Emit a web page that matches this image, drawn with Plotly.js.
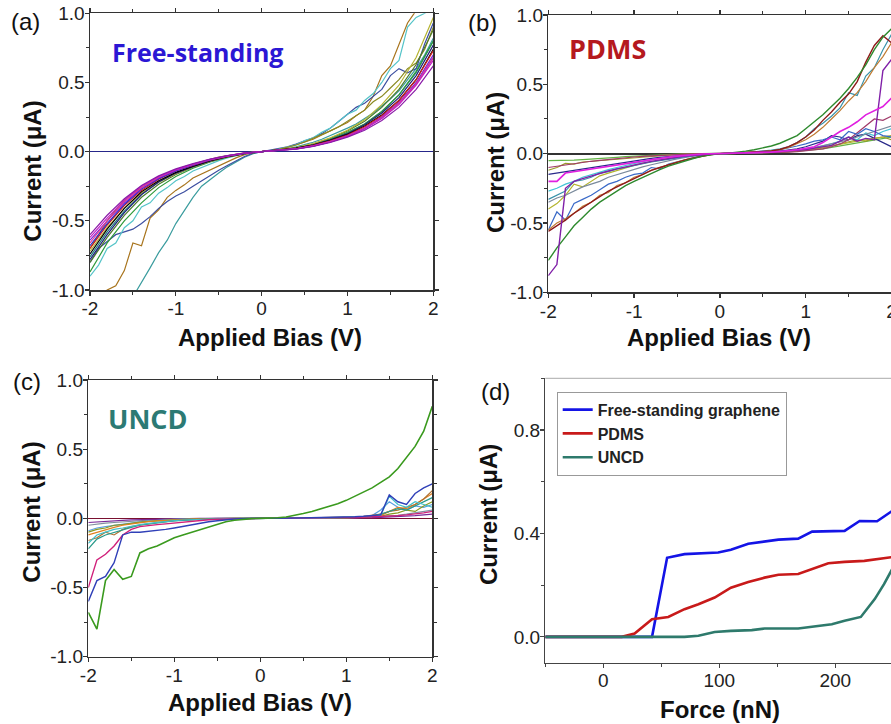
<!DOCTYPE html>
<html>
<head>
<meta charset="utf-8">
<script src="https://cdn.plot.ly/plotly-3.0.1.min.js"></script>
<style>
html,body{margin:0;padding:0;overflow:hidden;background:#fff;width:891px;height:724px;}
#chart{width:1000px;height:724px;}
</style>
</head>
<body>
<div id="chart"></div>
<script>
// ---------- shared bias grid ----------
const bias = [-2,-1.9,-1.8,-1.7,-1.6,-1.5,-1.4,-1.3,-1.2,-1.1,-1,-0.9,-0.8,-0.7,-0.6,-0.5,-0.4,-0.3,-0.2,-0.1,0,0.1,0.2,0.3,0.4,0.5,0.6,0.7,0.8,0.9,1,1.1,1.2,1.3,1.4,1.5,1.6,1.7,1.8,1.9,2];
const biasCoarse = [-2,-1.8,-1.6,-1.4,-1.2,-1,-0.8,-0.6,-0.4,-0.2,0,0.2,0.4,0.6,0.8,1,1.2,1.4,1.6,1.8,2];

// ---------- (a) Free-standing ----------
const aBlack  = [-0.74,-0.56,-0.41,-0.29,-0.21,-0.15,-0.105,-0.066,-0.036,-0.013,0,0.01,0.025,0.048,0.082,0.125,0.185,0.265,0.37,0.52,0.74];
const aRed    = [-0.70,-0.53,-0.39,-0.28,-0.2,-0.14,-0.1,-0.062,-0.034,-0.012,0,0.009,0.023,0.045,0.078,0.12,0.18,0.26,0.37,0.52,0.73];
const aMagenta= [-0.62,-0.48,-0.35,-0.25,-0.18,-0.13,-0.09,-0.056,-0.03,-0.011,0,0.008,0.02,0.04,0.07,0.11,0.165,0.24,0.34,0.48,0.66];
const aPurple = [-0.6,-0.46,-0.34,-0.245,-0.175,-0.125,-0.087,-0.054,-0.029,-0.01,0,0.007,0.018,0.037,0.066,0.105,0.155,0.225,0.32,0.45,0.62];
const aBlue   = [-0.68,-0.52,-0.38,-0.27,-0.195,-0.14,-0.097,-0.06,-0.032,-0.012,0,0.008,0.02,0.04,0.07,0.11,0.165,0.245,0.35,0.49,0.68];
const aViolet = [-0.64,-0.5,-0.37,-0.265,-0.19,-0.135,-0.094,-0.058,-0.031,-0.011,0,0.008,0.021,0.042,0.074,0.115,0.17,0.25,0.355,0.5,0.7];
const aNavy   = [-0.78,-0.6,-0.44,-0.31,-0.22,-0.155,-0.108,-0.068,-0.037,-0.014,0,0.01,0.026,0.05,0.086,0.13,0.195,0.28,0.39,0.55,0.77];
const aYellow = [-0.72,-0.55,-0.41,-0.3,-0.22,-0.16,-0.11,-0.07,-0.038,-0.014,0,0.012,0.03,0.058,0.1,0.155,0.23,0.34,0.48,0.68,0.97];
const aGreen  = [-0.87,-0.66,-0.5,-0.37,-0.26,-0.18,-0.12,-0.075,-0.04,-0.015,0,0.01,0.027,0.052,0.09,0.14,0.2,0.29,0.41,0.58,0.8];
const aPink   = [-0.66,-0.5,-0.36,-0.26,-0.185,-0.13,-0.092,-0.057,-0.03,-0.011,0,0.008,0.02,0.041,0.072,0.112,0.168,0.245,0.35,0.49,0.68];
const aDkOlive= [-0.8,-0.62,-0.46,-0.33,-0.235,-0.165,-0.113,-0.07,-0.038,-0.014,0,0.011,0.028,0.055,0.095,0.15,0.22,0.32,0.45,0.63,0.88];
const aTealB  = [-0.76,-0.58,-0.43,-0.31,-0.22,-0.155,-0.107,-0.067,-0.036,-0.013,0,0.01,0.026,0.05,0.088,0.135,0.2,0.29,0.41,0.57,0.8];
const aCyan   = [-0.9,-0.82,-0.7,-0.66,-0.55,-0.5,-0.4,-0.37,-0.3,-0.26,-0.21,-0.18,-0.14,-0.115,-0.085,-0.065,-0.045,-0.028,-0.015,-0.005,0,0.006,0.018,0.032,0.05,0.08,0.1,0.14,0.17,0.22,0.27,0.3,0.37,0.42,0.5,0.6,0.66,0.9,0.97,1.0,1.05];
const aBrown  = [-1.1,-1.06,-1.0,-0.97,-0.86,-0.66,-0.68,-0.48,-0.42,-0.33,-0.28,-0.24,-0.19,-0.16,-0.13,-0.1,-0.07,-0.045,-0.022,-0.007,0,0.005,0.015,0.03,0.05,0.07,0.09,0.12,0.15,0.18,0.21,0.26,0.3,0.4,0.55,0.62,0.78,0.93,1.02,1.08,1.12];
const aTeal   = [-1.2,-1.16,-1.13,-1.1,-1.08,-1.05,-0.95,-0.84,-0.73,-0.64,-0.52,-0.42,-0.33,-0.25,-0.2,-0.155,-0.11,-0.075,-0.04,-0.015,0,0.005,0.012,0.022,0.035,0.05,0.068,0.09,0.115,0.14,0.17,0.2,0.24,0.28,0.33,0.38,0.44,0.52,0.6,0.7,0.82];
const aSteel  = [-0.8,-0.7,-0.65,-0.6,-0.58,-0.56,-0.52,-0.47,-0.41,-0.36,-0.32,-0.29,-0.25,-0.21,-0.17,-0.135,-0.1,-0.065,-0.035,-0.012,0,0.008,0.02,0.035,0.055,0.075,0.1,0.13,0.17,0.22,0.27,0.32,0.35,0.4,0.45,0.55,0.6,0.57,0.6,0.78,0.93];
const aOlive  = [-0.7,-0.6,-0.5,-0.42,-0.35,-0.3,-0.26,-0.22,-0.19,-0.16,-0.135,-0.11,-0.09,-0.07,-0.055,-0.04,-0.028,-0.017,-0.008,-0.003,0,0.006,0.016,0.03,0.048,0.07,0.095,0.12,0.15,0.18,0.22,0.26,0.3,0.36,0.4,0.46,0.52,0.6,0.64,0.74,0.9];

// ---------- (b) PDMS ----------
const bGreen  = [-0.77,-0.68,-0.6,-0.52,-0.46,-0.4,-0.35,-0.31,-0.27,-0.23,-0.2,-0.17,-0.14,-0.115,-0.09,-0.07,-0.05,-0.033,-0.018,-0.007,0,0.004,0.01,0.018,0.028,0.04,0.055,0.075,0.1,0.13,0.18,0.23,0.28,0.34,0.4,0.47,0.55,0.64,0.75,0.84,0.9];
const bWine   = [-0.56,-0.52,-0.48,-0.43,-0.39,-0.35,-0.31,-0.27,-0.24,-0.21,-0.18,-0.15,-0.12,-0.1,-0.08,-0.06,-0.045,-0.03,-0.017,-0.006,0,0.002,0.005,0.008,0.012,0.016,0.02,0.03,0.05,0.08,0.12,0.17,0.24,0.3,0.37,0.43,0.52,0.66,0.78,0.85,0.8];
const bBrown  = [-0.55,-0.5,-0.47,-0.43,-0.38,-0.35,-0.3,-0.28,-0.23,-0.21,-0.17,-0.15,-0.12,-0.1,-0.075,-0.06,-0.042,-0.028,-0.015,-0.005,0,0.002,0.004,0.007,0.01,0.014,0.02,0.028,0.045,0.07,0.1,0.14,0.19,0.25,0.31,0.38,0.44,0.52,0.62,0.7,0.8];
const bTeal   = [-0.33,-0.3,-0.27,-0.2,-0.19,-0.17,-0.14,-0.13,-0.11,-0.1,-0.085,-0.07,-0.06,-0.05,-0.04,-0.03,-0.02,-0.013,-0.006,-0.002,0,0.002,0.005,0.008,0.012,0.018,0.025,0.035,0.05,0.08,0.12,0.18,0.22,0.27,0.33,0.44,0.42,0.56,0.62,0.75,0.86];
const bPurple = [-0.88,-0.8,-0.25,-0.2,-0.18,-0.16,-0.14,-0.125,-0.11,-0.095,-0.08,-0.068,-0.056,-0.045,-0.035,-0.026,-0.018,-0.011,-0.005,-0.002,0,0.001,0.003,0.005,0.008,0.01,0.012,0.015,0.02,0.025,0.03,0.04,0.045,0.06,0.09,0.12,0.09,0.11,0.1,0.6,0.68];
const bMagenta= [-0.2,-0.2,-0.14,-0.13,-0.12,-0.11,-0.1,-0.09,-0.08,-0.07,-0.06,-0.05,-0.04,-0.032,-0.025,-0.018,-0.012,-0.007,-0.003,-0.001,0,0.001,0.002,0.004,0.006,0.008,0.011,0.015,0.02,0.028,0.038,0.05,0.08,0.12,0.16,0.19,0.23,0.28,0.31,0.34,0.4];
const bLtGreen= [-0.05,-0.05,-0.048,-0.046,-0.043,-0.04,-0.036,-0.032,-0.027,-0.022,-0.018,-0.014,-0.01,-0.007,-0.005,-0.003,-0.002,-0.001,0,0,0,0,0.001,0.002,0.003,0.005,0.007,0.01,0.013,0.017,0.022,0.028,0.035,0.045,0.055,0.065,0.075,0.088,0.1,0.11,0.12];
const bOlive  = [-0.12,-0.1,-0.07,-0.075,-0.06,-0.055,-0.05,-0.045,-0.04,-0.033,-0.027,-0.022,-0.017,-0.012,-0.009,-0.006,-0.004,-0.002,-0.001,0,0,0,0.001,0.002,0.003,0.005,0.007,0.01,0.014,0.02,0.026,0.033,0.042,0.055,0.07,0.085,0.1,0.09,0.11,0.12,0.1];
const bNavy   = [-0.15,-0.14,-0.13,-0.12,-0.11,-0.1,-0.09,-0.08,-0.07,-0.06,-0.05,-0.042,-0.034,-0.027,-0.02,-0.015,-0.01,-0.006,-0.003,-0.001,0,0.001,0.002,0.004,0.006,0.009,0.013,0.018,0.025,0.035,0.05,0.07,0.09,0.13,0.12,0.1,0.13,0.14,0.11,0.08,0.05];
const bBlue   = [-0.55,-0.42,-0.48,-0.36,-0.33,-0.3,-0.26,-0.22,-0.2,-0.17,-0.15,-0.14,-0.1,-0.11,-0.075,-0.06,-0.04,-0.025,-0.012,-0.004,0,0.002,0.004,0.007,0.01,0.014,0.02,0.028,0.04,0.055,0.07,0.09,0.1,0.12,0.1,0.16,0.14,0.18,0.16,0.13,0.12];
const bGray   = [-0.35,-0.32,-0.3,-0.27,-0.24,-0.22,-0.2,-0.17,-0.15,-0.13,-0.11,-0.095,-0.08,-0.065,-0.05,-0.038,-0.027,-0.017,-0.009,-0.003,0,0.001,0.002,0.004,0.006,0.008,0.011,0.015,0.02,0.026,0.034,0.044,0.056,0.07,0.085,0.1,0.12,0.14,0.16,0.18,0.2];
const bYellow = [-0.4,-0.36,-0.3,-0.22,-0.24,-0.2,-0.16,-0.14,-0.12,-0.1,-0.085,-0.07,-0.057,-0.045,-0.034,-0.025,-0.017,-0.01,-0.005,-0.002,0,0.001,0.002,0.003,0.005,0.007,0.01,0.013,0.017,0.022,0.028,0.035,0.045,0.055,0.068,0.08,0.09,0.1,0.11,0.12,0.13];
const bCyan   = [-0.27,-0.25,-0.22,-0.2,-0.17,-0.15,-0.13,-0.115,-0.1,-0.085,-0.07,-0.058,-0.046,-0.036,-0.027,-0.02,-0.013,-0.008,-0.004,-0.001,0,0.001,0.002,0.003,0.005,0.007,0.01,0.013,0.018,0.024,0.032,0.042,0.055,0.07,0.09,0.12,0.1,0.15,0.13,0.16,0.18];
const bRose   = [-0.1,-0.09,-0.08,-0.07,-0.062,-0.055,-0.048,-0.041,-0.035,-0.029,-0.024,-0.019,-0.015,-0.011,-0.008,-0.005,-0.003,-0.002,-0.001,0,0,0,0.001,0.002,0.003,0.004,0.006,0.008,0.011,0.015,0.02,0.027,0.035,0.05,0.07,0.1,0.15,0.2,0.25,0.24,0.27];

// ---------- (c) UNCD ----------
const cGreen  = [-0.68,-0.8,-0.45,-0.37,-0.44,-0.42,-0.25,-0.22,-0.2,-0.17,-0.14,-0.12,-0.1,-0.08,-0.06,-0.04,-0.025,-0.014,-0.006,-0.002,0,0.001,0.004,0.01,0.02,0.035,0.05,0.068,0.085,0.105,0.13,0.16,0.19,0.22,0.26,0.3,0.36,0.44,0.52,0.63,0.81];
const cBlue   = [-0.6,-0.45,-0.42,-0.32,-0.12,-0.1,-0.1,-0.095,-0.088,-0.08,-0.07,-0.058,-0.046,-0.036,-0.025,-0.017,-0.01,-0.005,-0.002,0,0,0,0,0.001,0.001,0.002,0.003,0.004,0.005,0.007,0.009,0.012,0.015,0.02,0.025,0.17,0.12,0.1,0.18,0.22,0.25];
const cMagenta= [-0.5,-0.3,-0.26,-0.2,-0.12,-0.08,-0.06,-0.05,-0.045,-0.04,-0.033,-0.026,-0.02,-0.015,-0.01,-0.006,-0.004,-0.002,-0.001,0,0,0,0,0,0.001,0.001,0.002,0.002,0.003,0.004,0.005,0.006,0.008,0.01,0.012,0.015,0.02,0.025,0.03,0.04,0.05];
const cCyan   = [-0.18,-0.12,-0.1,-0.08,-0.07,-0.055,-0.045,-0.036,-0.028,-0.022,-0.017,-0.012,-0.009,-0.006,-0.004,-0.003,-0.002,-0.001,0,0,0,0,0,0.001,0.001,0.002,0.002,0.003,0.004,0.005,0.007,0.009,0.012,0.016,0.02,0.16,0.1,0.08,0.12,0.1,0.08];
const cTeal   = [-0.22,-0.15,-0.12,-0.1,-0.08,-0.065,-0.05,-0.04,-0.032,-0.025,-0.019,-0.014,-0.01,-0.007,-0.005,-0.003,-0.002,-0.001,0,0,0,0,0,0,0.001,0.001,0.002,0.002,0.003,0.004,0.006,0.008,0.011,0.015,0.03,0.05,0.07,0.06,0.09,0.12,0.15];
const cBrown  = [-0.16,-0.14,-0.1,-0.12,-0.08,-0.06,-0.048,-0.038,-0.03,-0.023,-0.017,-0.012,-0.008,-0.005,-0.003,-0.002,-0.001,0,0,0,0,0,0,0,0.001,0.001,0.002,0.003,0.004,0.005,0.007,0.01,0.014,0.02,0.03,0.05,0.06,0.08,0.1,0.14,0.2];
const cOlive  = [-0.1,-0.08,-0.07,-0.05,-0.045,-0.035,-0.028,-0.022,-0.017,-0.013,-0.01,-0.007,-0.005,-0.003,-0.002,-0.001,0,0,0,0,0,0,0,0,0,0.001,0.001,0.002,0.002,0.003,0.004,0.006,0.008,0.01,0.015,0.03,0.04,0.06,0.05,0.09,0.12];
const cOrange = [-0.12,-0.1,-0.08,-0.065,-0.05,-0.04,-0.03,-0.024,-0.018,-0.014,-0.01,-0.007,-0.005,-0.003,-0.002,-0.001,0,0,0,0,0,0,0,0,0.001,0.001,0.002,0.003,0.004,0.005,0.006,0.008,0.011,0.015,0.02,0.05,0.08,0.07,0.1,0.14,0.18];
const cLtBlue = [-0.09,-0.07,-0.06,-0.05,-0.04,-0.032,-0.025,-0.02,-0.015,-0.011,-0.008,-0.006,-0.004,-0.002,-0.001,0,0,0,0,0,0,0,0,0,0,0.001,0.001,0.002,0.003,0.004,0.005,0.007,0.01,0.02,0.06,0.12,0.08,0.06,0.09,0.08,0.1];
const cGray   = [-0.05,-0.04,-0.035,-0.03,-0.025,-0.02,-0.016,-0.012,-0.009,-0.007,-0.005,-0.003,-0.002,-0.001,0,0,0,0,0,0,0,0,0,0,0,0,0.001,0.001,0.002,0.003,0.004,0.005,0.007,0.01,0.013,0.017,0.022,0.03,0.04,0.05,0.06];
const cPurple = [-0.03,-0.025,-0.02,-0.017,-0.014,-0.011,-0.009,-0.007,-0.005,-0.004,-0.003,-0.002,-0.001,0,0,0,0,0,0,0,0,0,0,0,0,0,0,0,0.001,0.001,0.002,0.003,0.004,0.005,0.007,0.009,0.012,0.015,0.02,0.025,0.03];

// ---------- (d) current vs force ----------
const forceFree  = [-50,42,55,70,99,110,125,139,151,168,180,208,221,236,250];
const currentFree= [0,0,0.306,0.32,0.326,0.337,0.36,0.37,0.376,0.38,0.407,0.41,0.448,0.447,0.49];
const forcePDMS  = [-50,16,27,42,56,70,82,96,110,125,139,151,168,180,194,208,225,250];
const currentPDMS= [0,0,0.013,0.068,0.077,0.107,0.126,0.152,0.19,0.212,0.229,0.24,0.243,0.262,0.285,0.29,0.294,0.309];
const forceUNCD  = [-50,70,82,96,110,128,139,168,185,197,208,222,234,242,250];
const currentUNCD= [0,0,0.004,0.019,0.023,0.026,0.032,0.032,0.042,0.049,0.062,0.077,0.146,0.204,0.27];
const legendNames = ['Free-standing graphene','PDMS','UNCD'];

// ---------- tick labels ----------
const biasTickVals = [-2,-1,0,1,2];
const biasTickText = ['-2','-1','0','1','2'];
const ivTickVals = [-1,-0.5,0,0.5,1];
const ivTickText = ['-1.0','-0.5','0.0','0.5','1.0'];
const forceTickVals = [0,100,200,300];
const forceTickText = ['0','100','200','300'];
const dTickVals = [0,0.4,0.8];
const dTickText = ['0.0','0.4','0.8'];

// ---------- build traces ----------
const traces = [];
function iv(x, y, color, ax, w){
  traces.push({x:x, y:y, type:'scatter', mode:'lines', xaxis:'x'+ax, yaxis:'y'+ax,
    line:{color:color, width:w||1.2}, showlegend:false, hoverinfo:'skip'});
}
// empty placeholders so the top/right frame axes get drawn
function frameHolder(xa, ya){
  traces.push({x:[], y:[], type:'scatter', mode:'lines', xaxis:xa, yaxis:ya, showlegend:false, hoverinfo:'skip'});
}
frameHolder('x5','y'); frameHolder('x','y5');
frameHolder('x6','y2'); frameHolder('x2','y6');
frameHolder('x7','y3'); frameHolder('x3','y7');
// (a)
iv(bias, aTeal,  '#3a9c9e', '');
iv(bias, aBrown, '#a8741c', '');
iv(bias, aSteel, '#3c4ea0', '');
iv(bias, aCyan,  '#55c4c8', '');
iv(bias, aOlive, '#8a8a22', '');
iv(biasCoarse, aDkOlive, '#4e7a2a', '');
iv(biasCoarse, aTealB, '#1f7f80', '');
iv(biasCoarse, aGreen, '#2f9a3a', '');
iv(biasCoarse, aYellow,'#b6b432', '');
iv(biasCoarse, aNavy,  '#20207a', '');
iv(biasCoarse, aBlack, '#000000', '');
iv(biasCoarse, aRed,   '#d01c1c', '');
iv(biasCoarse, aBlue,  '#2a2ad0', '');
iv(biasCoarse, aViolet,'#7a22d8', '');
iv(biasCoarse, aPink,  '#e03a9a', '');
iv(biasCoarse, aMagenta,'#c41cc4', '');
iv(biasCoarse, aPurple,'#8a1aa8', '');
// (b)
iv(bias, bLtGreen,'#62b444', '2');
iv(bias, bOlive,  '#9a9a28', '2');
iv(bias, bNavy,   '#2a2a8a', '2');
iv(bias, bCyan,   '#42c4d6', '2');
iv(bias, bYellow, '#b4b42e', '2');
iv(bias, bGray,   '#7a8a9c', '2');
iv(bias, bRose,   '#a03a6a', '2');
iv(bias, bBlue,   '#3a6ac8', '2');
iv(bias, bTeal,   '#3a92aa', '2');
iv(bias, bBrown,  '#c07c34', '2');
iv(bias, bWine,   '#8e1a1a', '2', 1.4);
iv(bias, bGreen,  '#2e8a2e', '2', 1.4);
iv(bias, bPurple, '#8020a8', '2', 1.4);
iv(bias, bMagenta,'#e020e0', '2', 1.6);
// (c)
iv(bias, cGray,   '#8090a0', '3');
iv(bias, cPurple, '#7a2a9a', '3');
iv(bias, cLtBlue, '#5aa0e0', '3');
iv(bias, cOlive,  '#8a9a20', '3');
iv(bias, cOrange, '#e08020', '3');
iv(bias, cBrown,  '#b07030', '3');
iv(bias, cTeal,   '#2a9a8a', '3');
iv(bias, cCyan,   '#40c0c8', '3');
iv(bias, cMagenta,'#d0207a', '3', 1.4);
iv(bias, cBlue,   '#3040b8', '3', 1.4);
iv(bias, cGreen,  '#3a9a1e', '3', 1.6);
// (d)
traces.push({x:forceFree, y:currentFree, type:'scatter', mode:'lines', xaxis:'x4', yaxis:'y4', name:legendNames[0], line:{color:'#1414e6', width:2.6}});
traces.push({x:forcePDMS, y:currentPDMS, type:'scatter', mode:'lines', xaxis:'x4', yaxis:'y4', name:legendNames[1], line:{color:'#c81a1a', width:2.6}});
traces.push({x:forceUNCD, y:currentUNCD, type:'scatter', mode:'lines', xaxis:'x4', yaxis:'y4', name:legendNames[2], line:{color:'#2e7a6c', width:2.6}});

// ---------- axes ----------
const AX = '#333';
const tf = {family:'Arial, "Liberation Sans", sans-serif', size:19, color:'#222'};
function biasAxis(dom, anchor, extra){
  return Object.assign({domain:dom, anchor:anchor, range:[-2,2], showline:true, linecolor:AX, linewidth:1.5, mirror:false,
    ticks:'outside', ticklen:4, tickwidth:1.3, tickcolor:AX, tickmode:'array', tickvals:biasTickVals, ticktext:biasTickText,
    minor:{dtick:0.5, tick0:0, ticks:'outside', ticklen:3, tickwidth:1, tickcolor:AX}, ticklabelstandoff:-3,
    tickfont:tf, showgrid:false, zeroline:false, fixedrange:true}, extra||{});
}
function ivAxis(dom, anchor, extra){
  return Object.assign({domain:dom, anchor:anchor, range:[-1,1], showline:true, linecolor:AX, linewidth:1.5, mirror:false,
    ticks:'outside', ticklen:4, tickwidth:1.3, tickcolor:AX, tickmode:'array', tickvals:ivTickVals, ticktext:ivTickText,
    minor:{dtick:0.25, tick0:0, ticks:'outside', ticklen:3, tickwidth:1, tickcolor:AX}, ticklabelstandoff:-4,
    tickfont:tf, showgrid:false, zeroline:false, fixedrange:true}, extra||{});
}
const W = 1000, H = 724;
const px = v => v / W, py = v => 1 - v / H;
const domA = {x:[px(90), px(433.3)], y:[py(290), py(13.3)]};
const domB = {x:[px(548.3), px(891.5)], y:[py(292.3), py(15)]};
const domC = {x:[px(88.3), px(432.3)], y:[py(656.7), py(380)]};

const layout = {
  width:W, height:H, margin:{l:0,r:0,t:0,b:0}, paper_bgcolor:'#fff', plot_bgcolor:'#fff',
  font:{family:'Arial, "Liberation Sans", sans-serif', color:'#222'},
  xaxis:  biasAxis(domA.x, 'y'),
  yaxis:  ivAxis(domA.y, 'x', {zeroline:true, zerolinecolor:'#26268a', zerolinewidth:1.6}),
  xaxis2: biasAxis(domB.x, 'y2'),
  yaxis2: ivAxis(domB.y, 'x2', {zeroline:true, zerolinecolor:'#333', zerolinewidth:2}),
  xaxis3: biasAxis(domC.x, 'y3'),
  yaxis3: ivAxis(domC.y, 'x3', {zeroline:true, zerolinecolor:'#7a1030', zerolinewidth:1.6}),
  // top / right frame sides as overlay axes without labels
  xaxis5: biasAxis(domA.x, 'y', {overlaying:'x', side:'top', showticklabels:false}),
  yaxis5: ivAxis(domA.y, 'x', {overlaying:'y', side:'right', showticklabels:false}),
  xaxis6: biasAxis(domB.x, 'y2', {overlaying:'x2', side:'top', showticklabels:false}),
  yaxis6: ivAxis(domB.y, 'x2', {overlaying:'y2', side:'right', showticklabels:false}),
  xaxis7: biasAxis(domC.x, 'y3', {overlaying:'x3', side:'top', showticklabels:false}),
  yaxis7: ivAxis(domC.y, 'x3', {overlaying:'y3', side:'right', showticklabels:false}),
  xaxis4: {domain:[px(545.3), px(951.3)], anchor:'y4', range:[-50,300], showline:true, linecolor:'#444', linewidth:1.3,
    ticks:'outside', ticklen:4, tickwidth:1.2, tickcolor:'#444', tickmode:'array', tickvals:forceTickVals, ticktext:forceTickText,
    minor:{dtick:50, tick0:0, ticks:'outside', ticklen:3, tickcolor:'#444'}, ticklabelstandoff:-4, tickfont:tf, showgrid:false, zeroline:false, fixedrange:true},
  yaxis4: {domain:[py(662.7), py(378.3)], anchor:'x4', range:[-0.1,1.0], showline:true, linecolor:'#444', linewidth:1.3,
    ticks:'outside', ticklen:4, tickwidth:1.2, tickcolor:'#444', tickmode:'array', tickvals:dTickVals, ticktext:dTickText,
    minor:{dtick:0.2, tick0:0, ticks:'outside', ticklen:3, tickcolor:'#444'}, ticklabelstandoff:-4, tickfont:tf, showgrid:false, zeroline:false, fixedrange:true},
  showlegend:true,
  legend:{x:px(556.7), y:py(433.7), xanchor:'left', yanchor:'middle', bgcolor:'#fff', bordercolor:'#999', borderwidth:1,
    font:{family:'Arial, "Liberation Sans", sans-serif', size:16, color:'#222', weight:'bold'}, tracegroupgap:0},
  shapes:[{type:'line', xref:'x4 domain', yref:'y4 domain', x0:0, x1:1, y0:1, y1:1, line:{color:'#aaa', width:1}}],
  annotations:[]
};
const ann = layout.annotations;
function label(text, x, y, size, color, bold, angle, family){
  ann.push({text:text, x:px(x), y:py(y), xref:'paper', yref:'paper', xanchor:'center', yanchor:'middle', showarrow:false,
    textangle:angle||0, font:{family:family||'Arial, "Liberation Sans", sans-serif', size:size, color:color, weight:bold?'bold':'normal'}});
}
label('(a)', 25, 21, 24, '#111', false);
label('(b)', 482.5, 22.5, 24, '#111', false);
label('(c)', 27, 381, 24, '#111', false);
label('(d)', 495, 392, 24, '#111', false);
label('Free-standing', 197, 52, 25, '#2b17d4', true, 0, '"Open Sans", sans-serif');
label('PDMS', 607.5, 48, 27, '#b5191e', true, 0, '"Open Sans", sans-serif');
label('UNCD', 148, 418, 27, '#2c7a74', true, 0, '"Open Sans", sans-serif');
label('Current (μA)', 33, 171.7, 24, '#111', true, -90);
label('Applied Bias (V)', 270, 337, 24, '#111', true);
label('Current (μA)', 495, 163, 24, '#111', true, -90);
label('Applied Bias (V)', 719, 337, 24, '#111', true);
label('Current (μA)', 32, 512.7, 24, '#111', true, -90);
label('Applied Bias (V)', 260, 702, 24, '#111', true);
label('Current (μA)', 488, 515, 24, '#111', true, -90);
label('Force (nN)', 720, 709, 24, '#111', true);

Plotly.newPlot('chart', traces, layout, {staticPlot:true, displayModeBar:false});
</script>
</body>
</html>
